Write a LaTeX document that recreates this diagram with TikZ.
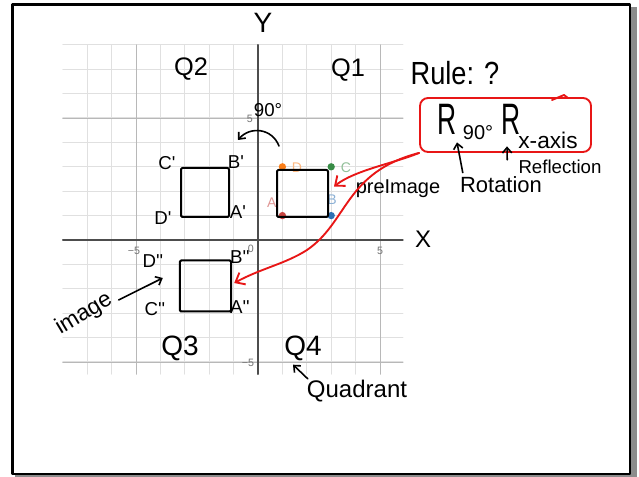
\documentclass[tikz,border=0pt]{standalone}
\usepackage{fontspec}
\usetikzlibrary{arrows.meta}
\newfontfamily\hand{Liberation Sans}
\newcommand\handsize[1]{\hand\fontsize{#1}{#1}\selectfont}
\definecolor{inkred}{RGB}{232,22,22}
\definecolor{ptred}{HTML}{C74440}
\definecolor{ptblue}{HTML}{2D70B3}
\definecolor{ptgreen}{HTML}{388C46}
\definecolor{ptorange}{HTML}{FA7E19}
\definecolor{axisgray}{HTML}{4D4D4D}

\begin{document}
\begin{tikzpicture}[x=0.75pt,y=-0.75pt,line cap=round,line join=round,
  >={Straight Barb[length=4pt,width=7pt]},
  every node/.style={inner sep=0pt},
  ink/.style={line width=1.5pt},
  redink/.style={line width=1.4pt,draw=inkred},
  redtip/.style={-{Straight Barb[length=6pt,width=10pt]}},
  scrawl/.style={font=\handsize{#1}},
  vtx/.style={font=\handsize{14}},
  dot/.style={circle,fill=#1,minimum size=5.5pt},
  dotlbl/.style={font=\handsize{10.5},text=#1!55},
  tick/.style={font=\handsize{8},text=black!55}]
  \useasboundingbox (0,0) rectangle (639,477);
  % sheet
  \fill[black!45] (15,7) rectangle (637,477);
  \draw[line width=2.2pt,fill=white] (12.5,4.7) rectangle (630,474);

  % coordinate plane
  \begin{scope}[shift={(258,240)},x=18.3pt,y=18.3pt]
    \foreach \i in {-7,...,5}
      \draw[black!12,line width=0.6pt] (\i,-5.5) -- (\i,8);
    \foreach \j in {-5,...,8}
      \draw[black!12,line width=0.8pt] (-8,\j) -- (5.94,\j);
    \foreach \i in {-5,5} {
      \draw[black!28,line width=0.7pt] (\i,-5.5) -- (\i,8);
      \draw[black!28,line width=0.7pt] (-8,\i) -- (5.94,\i);
    }
    \draw[axisgray,line width=1.1pt] (-8,0) -- (5.94,0);
    \draw[axisgray,line width=1.1pt] (0,-5.5) -- (0,8);
    \node[tick] (xmfive) at (-5.08,-0.45) {−5};
    \node[tick] (xfive) at (5,-0.45) {5};
    \node[tick] (orig) at (-0.29,-0.37) {0};
    \node[tick] (yfive) at (-0.33,4.96) {5};
    \node[tick] (ymfive) at (-0.41,-5.04) {−5};
    \node[dot=ptred] (A) at (1,1) {};
    \node[dot=ptblue] (B) at (3,1) {};
    \node[dot=ptgreen] (C) at (3,3) {};
    \node[dot=ptorange] (D) at (1,3) {};
    \node[dotlbl=ptred] (Alab) at (0.57,1.52) {A};
    \node[dotlbl=ptblue] (Blab) at (3.03,1.64) {B};
    \node[dotlbl=ptgreen] (Clab) at (3.6,2.95) {C};
    \node[dotlbl=ptorange] (Dlab) at (1.6,2.95) {D};
  \end{scope}

  % hand-drawn squares
  \node[draw,ink,rounded corners=1pt,minimum width=38.25pt,minimum height=35.25pt] (pre) at (302.5,193.5) {};
  \node[draw,ink,rounded corners=1pt,minimum width=36pt,minimum height=36.75pt] (rot) at (205,192.5) {};
  \node[draw,ink,rounded corners=1pt,minimum width=38.6pt,minimum height=38.25pt] (img) at (205.5,286) {};

  % vertex names
  \node[vtx] (Cp) at (167,163) {C'};
  \node[vtx] (Bp) at (236,162) {B'};
  \node[vtx] (Dp) at (163,218) {D'};
  \node[vtx] (Ap) at (238,212) {A'};
  \node[vtx] (Dpp) at (153,261) {D''};
  \node[vtx] (Bpp) at (240,257) {B''};
  \node[vtx] (Cpp) at (155,309) {C''};
  \node[vtx] (App) at (240,307) {A''};

  % axes and quadrants
  \node[scrawl=21] (ylab) at (263,23) {Y};
  \node[scrawl=18] (xlab) at (423,239) {X};
  \node[scrawl=19] (qtwo) at (191,69) {Q2};
  \node[scrawl=19] (qone) at (348,70) {Q1};
  \node[scrawl=21] (qthree) at (180,348) {Q3};
  \node[scrawl=21] (qfour) at (303,348) {Q4};
  \node[scrawl=18] (quad) at (357,391) {Quadrant};
  \draw[ink,line width=1.2pt,->] ([shift={(1,-1)}]quad.north west) -- ([shift={(-10,4)}]qfour.south);

  % rotation arrow
  \node[scrawl=14] (deg) at (268,110) {90°};
  \draw[ink,line width=1.2pt,->] ([shift={(3,-23)}]pre.north west) .. controls (272,128) and (250,126) .. ([shift={(8,-27)}]rot.north east);

  % image label
  \node[scrawl=17,rotate=31] (imglbl) at (84,314) {image};
  \draw[ink,line width=1.2pt,->] ([shift={(8,2)}]imglbl.east) -- ([shift={(-16,-8)}]img.west);

  % rule
  \node[scrawl=24,xscale=0.85] (rulelbl) at (455,73) {Rule: ?};
  \node[draw=inkred,line width=1.4pt,rounded corners=6pt,minimum width=128.25pt,minimum height=40.5pt] (rule) at (505.5,125) {};
  \draw[redink] (552,100) -- (564,95) -- (568,98);
  \node[scrawl=33,xscale=0.6] (rninety) at (447,119) {R};
  \node[scrawl=15] (ninety) at (478,133) {90°};
  \node[scrawl=33,xscale=0.6] (rxaxis) at (511,119) {R};
  \node[scrawl=17] (xaxis) at (548,140) {x-axis};
  \node[scrawl=16.5] (rotn) at (501,185) {Rotation};
  \node[scrawl=14] (refl) at (560,167) {Reflection};
  \draw[ink,line width=1.2pt,->] ([shift={(3,-4)}]rotn.north west) -- ([shift={(10,8)}]rninety.south);
  \draw[ink,line width=1.2pt,->] ([shift={(-11,0)}]refl.north west) -- ([shift={(-4,12)}]rxaxis.south);

  % pre-image
  \node[scrawl=15] (prelbl) at (398,189) {preImage};
  \draw[redink,redtip] (rule.south west) .. controls (395,163) and (355,170) .. ([shift={(5,-7)}]pre.east);
  \draw[redink,redtip] (rule.south west) .. controls (345,172) and (348,222) .. (307,250) .. controls (285,264) and (262,268) .. ([shift={(2,-3)}]img.east);
\end{tikzpicture}
\end{document}
